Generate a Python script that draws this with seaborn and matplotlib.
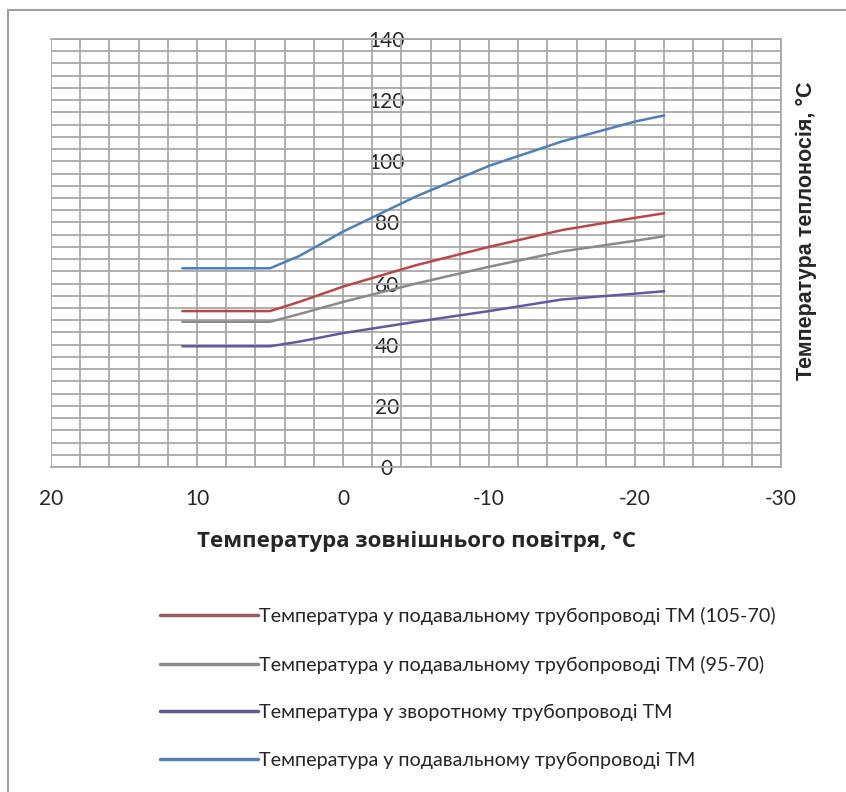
import matplotlib
matplotlib.use("Agg")
import matplotlib.pyplot as plt
import seaborn as sns
import pandas as pd
import numpy as np
from matplotlib.lines import Line2D

# ---- data ----
outdoor_t = [11, 5, 3, 0, -5, -10, -15, -20, -22]
supply_105_70 = [51, 51, 54, 59, 66, 72, 77.5, 81.5, 83]
supply_95_70 = [47.5, 47.5, 50, 54, 60, 65.5, 70.5, 74, 75.5]
return_line = [39.5, 39.5, 41, 43.8, 47.5, 51, 54.8, 56.7, 57.5]
supply_main = [65, 65, 69, 77, 88.5, 98.5, 106.5, 113, 115]

series_names = [
    "Температура у подавальному трубопроводі ТМ (105-70)",
    "Температура у подавальному трубопроводі ТМ (95-70)",
    "Температура у зворотному трубопроводі ТМ",
    "Температура у подавальному трубопроводі ТМ",
]
series_values = [supply_105_70, supply_95_70, return_line, supply_main]
colors = ["#b84848", "#8a8a8a", "#6658a0", "#4f7fba"]
legend_colors = ["#9a5a58", "#8c8a8a", "#5f5890", "#5a7eb0"]

x_ticks = [20, 10, 0, -10, -20, -30]
y_ticks = [0, 20, 40, 60, 80, 100, 120, 140]

rows = []
for name, vals in zip(series_names, series_values):
    for xv, yv in zip(outdoor_t, vals):
        rows.append({"x": xv, "y": yv, "series": name})
df = pd.DataFrame(rows)

sns.set_style("white")
plt.rcParams['font.family'] = ['Lato', 'DejaVu Sans']

fig = plt.figure(figsize=(8.46, 7.92), dpi=100)
ax = fig.add_axes([51/846, 1-467/792, 730/846, 428/792])

sns.lineplot(data=df, x="x", y="y", hue="series", palette=dict(zip(series_names, colors)),
             ax=ax, linewidth=1.8, legend=False, sort=False, zorder=3)

ax.set_xlim(20, -30)
ax.set_ylim(0, 140)
ax.spines['left'].set_position(('data', -3))
ax.spines['left'].set_visible(False)

grid_c = "#a8a8a8"
for xv in np.arange(20, -30.1, -2):
    ax.axvline(xv, color=grid_c, lw=1.3, zorder=1)
for yv in np.arange(0, 140.1, 4):
    ax.axhline(yv, color=grid_c, lw=1.3, zorder=1)

ax.set_xticks(x_ticks)
ax.set_xticklabels([str(v) for v in x_ticks], fontsize=15)
ax.tick_params(axis='x', length=7, width=1.3, color=grid_c, pad=9, direction='out')

ax.set_yticks(y_ticks)
ax.set_yticklabels([str(v) for v in y_ticks], fontsize=15)
ax.tick_params(axis='y', length=0, pad=0)
for lab in ax.get_yticklabels():
    lab.set_horizontalalignment('center')
    lab.set_zorder(4)

for s in ['top', 'right', 'bottom']:
    ax.spines[s].set_color(grid_c)
    ax.spines[s].set_linewidth(1.3)

ax.set_xlabel("Температура зовнішнього повітря, °С", fontsize=16, fontweight='bold',
              family=['Open Sans', 'DejaVu Sans'], labelpad=16)
ax.set_ylabel("")
fig.text(806/846, 1-231/792, "Температура теплоносія, °С", rotation=90, fontsize=15.5,
         fontweight='bold', family=['Liberation Sans', 'DejaVu Sans'], ha='center', va='center')

handles = [Line2D([0], [0], color=c, lw=2.5) for c in legend_colors]
leg = fig.legend(handles, series_names, loc='upper left', bbox_to_anchor=(150/846, 1-597/792),
                 frameon=False, fontsize=14.2, handlelength=5.0, handletextpad=0.05,
                 labelspacing=1.55, borderpad=0)

# outer chart border
fig.add_artist(Line2D([8/846, 8/846], [0, 1-10/792], transform=fig.transFigure, color="#a0a0a0", lw=1.5))
fig.add_artist(Line2D([8/846, 1], [1-10/792, 1-10/792], transform=fig.transFigure, color="#a0a0a0", lw=1.5))

fig.savefig("out.png", dpi=100)
